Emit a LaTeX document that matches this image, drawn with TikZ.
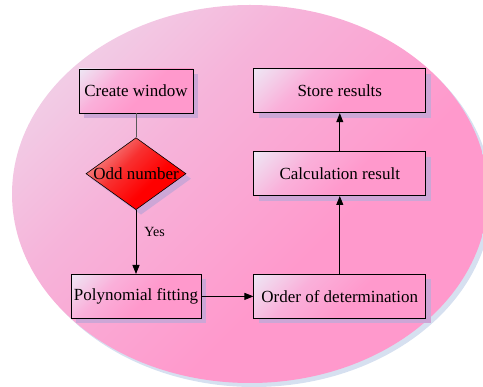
\documentclass[tikz,border=0pt]{standalone}
\usepackage{fontspec}
\setmainfont{Liberation Serif}
\usetikzlibrary{arrows.meta, positioning, shapes.geometric, shadows, backgrounds}
\definecolor{wndlight}{HTML}{EEDEEE}
\definecolor{wndmid}{HTML}{F6B4DA}
\definecolor{wndpink}{HTML}{FF99CC}
\definecolor{wndshadow}{HTML}{D6E0F0}
\definecolor{boxlight}{HTML}{EEE6F4}
\definecolor{boxmid}{HTML}{FAB0DA}
\definecolor{boxpink}{HTML}{FF99CC}
\definecolor{boxshadow}{HTML}{CDA6D6}
\definecolor{decilight}{HTML}{F2A8A8}
\definecolor{decimid}{HTML}{F83030}
\definecolor{decired}{HTML}{FF0000}
% light in the top-left corner, pink towards the bottom right
\pgfdeclareverticalshading{boxgrad}{100bp}{color(0bp)=(boxpink); color(15bp)=(boxpink);
  color(45bp)=(boxpink); color(65bp)=(boxmid); color(85bp)=(boxlight); color(100bp)=(boxlight)}
\pgfdeclareverticalshading{wndgrad}{100bp}{color(0bp)=(wndpink); color(15bp)=(wndpink);
  color(40bp)=(wndpink); color(62bp)=(wndmid); color(85bp)=(wndlight); color(100bp)=(wndlight)}
\pgfdeclareverticalshading{decigrad}{100bp}{color(0bp)=(decired); color(15bp)=(decired);
  color(40bp)=(decired); color(58bp)=(decimid); color(80bp)=(decilight); color(100bp)=(decilight)}
\tikzset{
  fitchart/.style={
    font=\fontsize{17}{20}\selectfont,
    >={Triangle[length=9pt, width=7pt]},
    line width=0.8pt,
    x=1pt, y=-1pt,
  },
  backdrop/.style={
    ellipse, inner sep=0pt, minimum width=476pt, minimum height=378pt,
    shading=wndgrad, shading angle=45,
    drop shadow={shadow xshift=4pt, shadow yshift=-4pt, fill=wndshadow, opacity=1},
  },
  procbox/.style={
    rectangle, draw=black, line width=0.8pt, inner sep=2pt,
    minimum height=44pt, align=center,
    shading=boxgrad, shading angle=45,
    drop shadow={shadow xshift=5pt, shadow yshift=-5pt, fill=boxshadow, opacity=1},
  },
  decision/.style={
    diamond, draw=black, line width=0.6pt, inner sep=0pt,
    minimum width=100pt, minimum height=72pt,
    shading=decigrad, shading angle=45,
    drop shadow={shadow xshift=5pt, shadow yshift=-5pt, fill=boxshadow, opacity=1},
  },
  flow/.style={->, draw=black},
  plainflow/.style={draw=black!65},
  edgelbl/.style={font=\fontsize{14}{16}\selectfont, inner sep=1pt},
}
\begin{document}
\begin{tikzpicture}[fitchart]
  \useasboundingbox (0,0) rectangle (483,387);

  \node[backdrop] (frame) at (250,194) {};

  \node[procbox, minimum width=114pt] (window) at (136,91) {Create window};
  \node[decision, below=24pt of window, label={[inner sep=0pt]center:Odd number}] (odd) {};
  \node[procbox, minimum width=130pt, below=64pt of odd] (polyfit) {Polynomial fitting};
  \node[procbox, minimum width=172pt, right=52pt of polyfit] (order) {Order of determination};
  \node[procbox, minimum width=172pt, above=78pt of order] (calc) {Calculation result};
  \node[procbox, minimum width=172pt, above=38pt of calc] (store) {Store results};

  \draw[plainflow] (window) -- (odd);
  \draw[flow] (odd) -- node[edgelbl, pos=0.35, right=7pt] {Yes} (polyfit);
  \draw[flow] (polyfit) -- (order);
  \draw[flow] (order) -- (calc);
  \draw[flow] (calc) -- (store);
\end{tikzpicture}
\end{document}
